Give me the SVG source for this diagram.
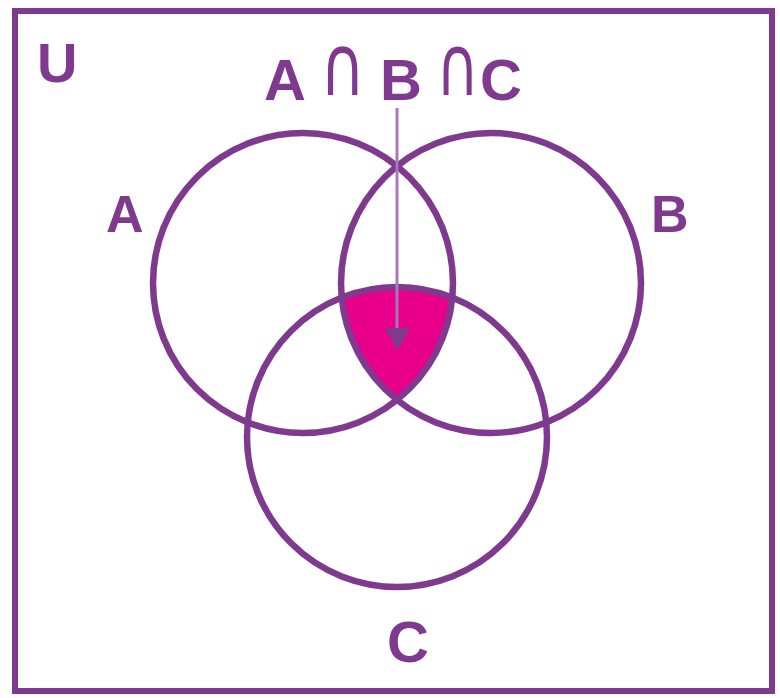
<svg xmlns="http://www.w3.org/2000/svg" width="780" height="698" viewBox="0 0 780 698">
<style>
.ring{fill:none;stroke:#7f3a8f;stroke-width:6.5}
.lbl{font-family:"Liberation Sans",Arial,sans-serif;font-weight:bold;fill:#7f3a8f}
.cap{font-family:"DejaVu Sans","Liberation Sans",sans-serif;font-weight:normal;fill:#7f3a8f}
</style>
<rect x="0" y="0" width="780" height="698" fill="#ffffff"/>
<g id="universe">
<rect x="15" y="11" width="757" height="680" fill="none" stroke="#7f3a8f" stroke-width="6"/>
<text class="lbl" x="37" y="82" font-size="56">U</text>
</g>
<g id="intersection">
<path d="M341.7,297.6 A150,150 0 0 1 452.3,297.6 A150,150 0 0 1 397,400 A150,150 0 0 1 341.7,297.6 Z" fill="#e8008a"/>
</g>
<g id="setA">
<circle class="ring" cx="303" cy="283" r="150"/>
<text class="lbl" x="106" y="232" font-size="52">A</text>
</g>
<g id="setB">
<circle class="ring" cx="491" cy="283" r="150"/>
<text class="lbl" x="651" y="232" font-size="52">B</text>
</g>
<g id="setC">
<circle class="ring" cx="397" cy="437" r="150"/>
<text class="lbl" x="387" y="662" font-size="58">C</text>
</g>
<g id="title">
<text class="lbl" x="264" y="100" font-size="58">A</text>
<text class="cap" transform="translate(320,95) scale(1.1,1.5)" x="0" y="0" font-size="56">∩</text>
<text class="lbl" x="380" y="100" font-size="58">B</text>
<text class="cap" transform="translate(436,95) scale(1.05,1.5)" x="0" y="0" font-size="56">∩</text>
<text class="lbl" x="480" y="100" font-size="58">C</text>
</g>
<g id="connectors">
<line x1="397" y1="108" x2="397" y2="330" stroke="#a978b8" stroke-width="3"/>
<path d="M385,328 L410,328 L397.5,350 Z" fill="#7f3a8f"/>
</g>
</svg>
